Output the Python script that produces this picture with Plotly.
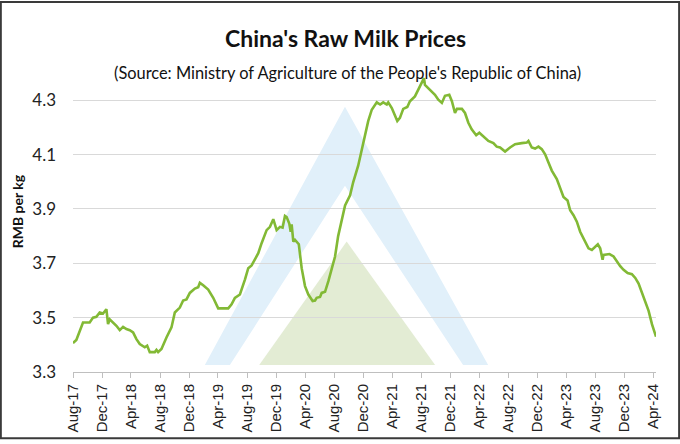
import plotly.graph_objects as go

dates = [
    "2017-08-01", "2017-08-15", "2017-09-12", "2017-10-10", "2017-10-24", "2017-11-07", "2017-11-21",
    "2017-12-05", "2017-12-19", "2017-12-26", "2018-01-02", "2018-01-16", "2018-01-30", "2018-02-13",
    "2018-02-27", "2018-03-13", "2018-03-27", "2018-04-10", "2018-04-24", "2018-05-08", "2018-05-29",
    "2018-06-08", "2018-06-19", "2018-07-10", "2018-07-17", "2018-07-24", "2018-08-07", "2018-08-28",
    "2018-09-18", "2018-10-02", "2018-10-23", "2018-11-06", "2018-11-20", "2018-12-04", "2018-12-25",
    "2019-01-08", "2019-01-15", "2019-01-29", "2019-02-19", "2019-03-12", "2019-04-02", "2019-05-14",
    "2019-05-28", "2019-06-11", "2019-07-02", "2019-07-23", "2019-08-06", "2019-08-20", "2019-09-03",
    "2019-09-17", "2019-10-01", "2019-10-22", "2019-11-05", "2019-11-19", "2019-12-03", "2019-12-17",
    "2019-12-28", "2020-01-07", "2020-01-14", "2020-01-25", "2020-01-31", "2020-02-04", "2020-02-11",
    "2020-02-18", "2020-03-05", "2020-03-17", "2020-03-31", "2020-04-14", "2020-05-02", "2020-05-12",
    "2020-05-19", "2020-06-02", "2020-06-09", "2020-06-23", "2020-07-07", "2020-07-21", "2020-08-04",
    "2020-08-17", "2020-09-01", "2020-09-15", "2020-10-06", "2020-10-19", "2020-11-09", "2020-11-24",
    "2020-12-08", "2020-12-21", "2021-01-05", "2021-01-26", "2021-02-09", "2021-02-22", "2021-03-09",
    "2021-03-15", "2021-03-30", "2021-04-12", "2021-04-22", "2021-05-03", "2021-05-17", "2021-06-03",
    "2021-06-14", "2021-07-05", "2021-07-19", "2021-08-03", "2021-08-12", "2021-08-16", "2021-08-30",
    "2021-09-14", "2021-09-27", "2021-10-11", "2021-10-26", "2021-11-08", "2021-11-26", "2021-12-07",
    "2021-12-20", "2021-12-28", "2022-01-18", "2022-01-31", "2022-02-14", "2022-02-28", "2022-03-19",
    "2022-04-01", "2022-04-18", "2022-05-09", "2022-05-30", "2022-06-13", "2022-06-27", "2022-07-18",
    "2022-08-08", "2022-08-29", "2022-09-26", "2022-10-17", "2022-10-24", "2022-11-07", "2022-11-21",
    "2022-12-05", "2022-12-19", "2023-01-02", "2023-01-16", "2023-01-30", "2023-02-20", "2023-03-06",
    "2023-03-20", "2023-04-06", "2023-04-17", "2023-05-01", "2023-05-15", "2023-05-29", "2023-06-12",
    "2023-07-03", "2023-07-17", "2023-07-31", "2023-08-11", "2023-08-21", "2023-08-31", "2023-09-04",
    "2023-09-29", "2023-10-16", "2023-10-30", "2023-11-13", "2023-11-27", "2023-12-14", "2024-01-01",
    "2024-01-15", "2024-01-29", "2024-02-12", "2024-02-26", "2024-03-11", "2024-03-25", "2024-04-11",
]

prices = [
    3.406, 3.418, 3.482, 3.482, 3.500, 3.503, 3.519,
    3.515, 3.531, 3.476, 3.494, 3.482, 3.470, 3.454,
    3.466, 3.458, 3.454, 3.446, 3.421, 3.403, 3.391,
    3.397, 3.373, 3.373, 3.381, 3.373, 3.385, 3.427,
    3.464, 3.519, 3.537, 3.563, 3.567, 3.591, 3.607,
    3.612, 3.628, 3.619, 3.603, 3.573, 3.534, 3.534,
    3.549, 3.573, 3.585, 3.640, 3.682, 3.692, 3.713,
    3.737, 3.774, 3.822, 3.834, 3.862, 3.822, 3.834,
    3.831, 3.874, 3.870, 3.846, 3.816, 3.843, 3.780,
    3.786, 3.770, 3.682, 3.616, 3.585, 3.561, 3.563,
    3.573, 3.576, 3.591, 3.595, 3.634, 3.676, 3.725,
    3.800, 3.853, 3.913, 3.950, 3.998, 4.059, 4.120,
    4.180, 4.223, 4.265, 4.292, 4.284, 4.292, 4.284,
    4.292, 4.271, 4.241, 4.223, 4.235, 4.268, 4.275,
    4.296, 4.314, 4.338, 4.362, 4.381, 4.356, 4.344,
    4.332, 4.320, 4.302, 4.290, 4.316, 4.320, 4.296,
    4.253, 4.268, 4.268, 4.253, 4.217, 4.193, 4.171,
    4.180, 4.168, 4.150, 4.142, 4.129, 4.126, 4.111,
    4.126, 4.138, 4.142, 4.144, 4.150, 4.126, 4.122,
    4.129, 4.120, 4.101, 4.071, 4.041, 4.010, 3.974,
    3.944, 3.931, 3.895, 3.877, 3.853, 3.816, 3.792,
    3.755, 3.749, 3.761, 3.770, 3.755, 3.713, 3.731,
    3.734, 3.725, 3.707, 3.689, 3.676, 3.664, 3.660,
    3.646, 3.625, 3.591, 3.555, 3.525, 3.476, 3.430,
]

y_ticks = [3.3, 3.5, 3.7, 3.9, 4.1, 4.3]
y_range = [3.3, 4.4]
x_range = ["2017-08-01", "2024-04-11"]

title_text = "China's Raw Milk Prices"
subtitle_text = "(Source: Ministry of Agriculture of the People's Republic of China)"
y_title = "RMB per kg"

# plot-area geometry in pixels (for decorative shapes / text placement)
W, H = 680, 444
L, R, T, B = 73.3, 655.7, 73.0, 375.0


def px(x):
    return (x - L) / (R - L)


def py(y):
    return (B - y) / (B - T)


fig = go.Figure()
fig.add_trace(go.Scatter(
    x=dates, y=prices, mode="lines",
    line=dict(color="#82B935", width=2.6),
    hoverinfo="x+y", showlegend=False,
))

# watermark logo (decorative)
blue_pts = [(205, 368), (345, 107), (488, 368), (463, 368), (345, 187), (230, 368)]
green_pts = [(259.3, 368), (346.7, 243.3), (435, 368)]


def path(pts):
    s = "M " + " L ".join(f"{px(x):.4f} {py(y):.4f}" for x, y in pts) + " Z"
    return s


shapes = [
    dict(type="path", xref="paper", yref="paper", path=path(blue_pts),
         fillcolor="#E1F0FA", line=dict(width=0), layer="below"),
    dict(type="path", xref="paper", yref="paper", path=path(green_pts),
         fillcolor="#E3ECD4", line=dict(width=0), layer="below"),
    dict(type="rect", xref="paper", yref="paper",
         x0=px(1.2), x1=px(678.8), y0=py(441.8), y1=py(1.2),
         line=dict(color="#3A3A3A", width=2), fillcolor="rgba(0,0,0,0)", layer="above"),
]

annotations = [
    dict(text=f"<b>{title_text}</b>", xref="paper", yref="paper",
         x=px(346), y=py(38), xanchor="center", yanchor="middle", showarrow=False,
         font=dict(family="Lato", size=23, color="#111111")),
    dict(text=subtitle_text, xref="paper", yref="paper",
         x=px(347.5), y=py(72), xanchor="center", yanchor="middle", showarrow=False,
         font=dict(family="Lato", size=16.4, color="#111111")),
    dict(text=f"<b>{y_title}</b>", xref="paper", yref="paper",
         x=px(18), y=py(213), xanchor="center", yanchor="middle", showarrow=False,
         textangle=-90, font=dict(family="Lato", size=14, color="#111111")),
]

fig.update_layout(
    width=W, height=H, autosize=False,
    margin=dict(l=L, r=W - R, t=T, b=H - B, pad=0),
    paper_bgcolor="white", plot_bgcolor="rgba(0,0,0,0)",
    shapes=shapes, annotations=annotations,
    showlegend=False,
)

fig.update_xaxes(
    type="date", range=x_range, tick0="2017-08-01", dtick="M4", tickformat="%b-%y",
    tickangle=-90, ticks="outside", ticklen=5, tickcolor="#BFBFBF", tickwidth=1,
    showline=True, linecolor="#BFBFBF", linewidth=1, showgrid=False, zeroline=False,
    tickfont=dict(family="Liberation Sans", size=15, color="#222222"),
)
fig.update_yaxes(
    range=y_range, tickvals=y_ticks, tickformat=".1f", showgrid=True,
    gridcolor="#D9D9D9", gridwidth=1, zeroline=False, showline=False, ticks="",
    ticklabelstandoff=16,
    tickfont=dict(family="Lato", size=17, color="#222222"),
)

fig.write_html(
    "out.html",
    config={"displayModeBar": False},
    post_script="document.body.style.margin='0';document.body.style.overflow='hidden';",
)
